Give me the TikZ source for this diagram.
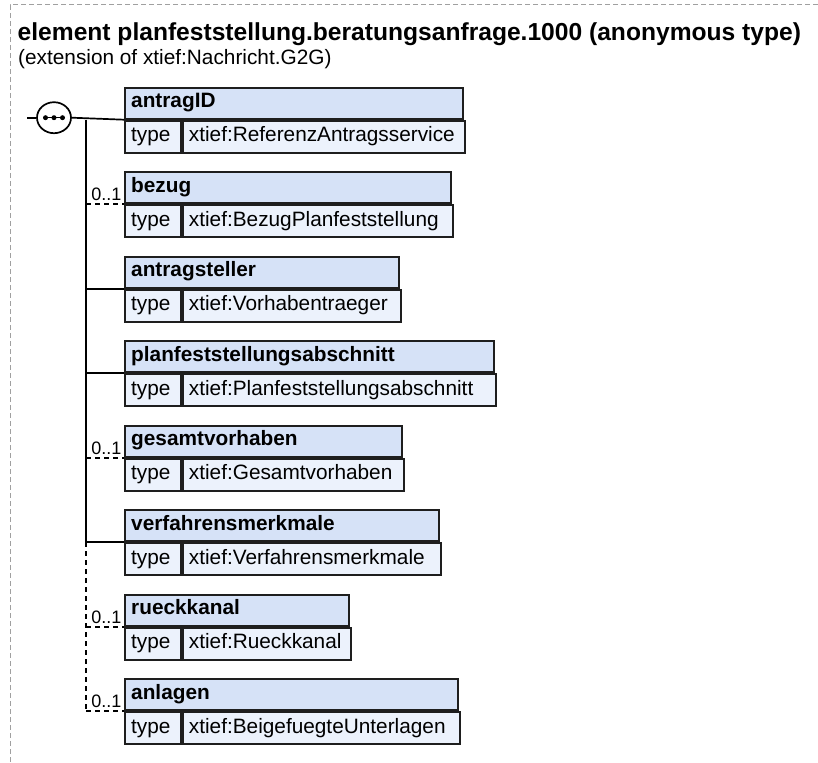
\documentclass[tikz,border=0pt]{standalone}
\usepackage{fontspec}
\setmainfont{Liberation Sans}
\usetikzlibrary{shapes.geometric}
\definecolor{hdrfill}{RGB}{214,226,247}
\definecolor{rowfill}{RGB}{236,242,252}
\definecolor{boxline}{RGB}{30,30,30}
\definecolor{frameline}{RGB}{160,160,160}
\newcommand\xsdelem[6]{%
  \node[hdrbox, minimum width=#3pt] (#1h) at (124,#2) {};
  \node[hdrtext] (#1n) at ([xshift=7pt,yshift=-21pt]#1h.north west) {#5};
  \node[lblbox] (#1l) at (#1h.south west) {};
  \node[bodytext] (#1t) at ([xshift=7pt,yshift=-22pt]#1l.north west) {type};
  \node[valbox, minimum width=#4pt] (#1v) at (#1l.north east) {};
  \node[bodytext] (#1x) at ([xshift=6.7pt,yshift=-22pt]#1v.north west) {#6};
}
\begin{document}
\begin{tikzpicture}[x=1pt,y=-1pt,
  frame/.style={draw=frameline, line width=1pt, dash pattern=on 5pt off 3pt},
  hdrbox/.style={draw=boxline, line width=2pt, fill=hdrfill, anchor=north west, inner sep=0pt, minimum height=31pt},
  lblbox/.style={draw=boxline, line width=2pt, fill=rowfill, anchor=north west, inner sep=0pt, minimum height=32pt, minimum width=56pt},
  valbox/.style={draw=boxline, line width=2pt, fill=rowfill, anchor=north west, inner sep=0pt, minimum height=32pt},
  hdrtext/.style={anchor=base west, inner sep=0pt, font=\fontsize{20.8}{24}\selectfont\bfseries},
  bodytext/.style={anchor=base west, inner sep=0pt, font=\fontsize{20.8}{24}\selectfont},
  card/.style={anchor=base east, inner sep=0pt, font=\fontsize{18}{20}\selectfont},
  conn/.style={draw=black, line width=1.7pt},
  optconn/.style={draw=black, line width=1.7pt, dash pattern=on 5pt off 4pt},
  seqnode/.style={ellipse, draw=black, line width=1.7pt, fill=white, minimum width=34pt, minimum height=31pt, inner sep=0pt},
  seqdot/.style={circle, fill=black, inner sep=0pt, minimum size=5pt}
]
\useasboundingbox (0,0) rectangle (818,762);
\draw[frame] (818,5) -- (10,5) -- (10,762);
\node[anchor=base west, inner sep=0pt, font=\fontsize{24.6}{28}\selectfont\bfseries] (title) at (17.5,40.5) {element planfeststellung.beratungsanfrage.1000 (anonymous type)};
\node[anchor=base west, inner sep=0pt, font=\fontsize{20.8}{24}\selectfont] (subtitle) at (18,64.5) {(extension of xtief:Nachricht.G2G)};

\xsdelem{e1}{86.7}{338}{282}{antragID}{xtief:ReferenzAntragsservice}
\xsdelem{e2}{171.2}{325.7}{269.7}{bezug}{xtief:BezugPlanfeststellung}
\xsdelem{e3}{255.7}{273.7}{217.7}{antragsteller}{xtief:Vorhabentraeger}
\xsdelem{e4}{340.2}{368.7}{312.7}{planfeststellungsabschnitt}{xtief:Planfeststellungsabschnitt}
\xsdelem{e5}{424.7}{276.7}{220.7}{gesamtvorhaben}{xtief:Gesamtvorhaben}
\xsdelem{e6}{509.2}{314.3}{258.3}{verfahrensmerkmale}{xtief:Verfahrensmerkmale}
\xsdelem{e7}{593.7}{223.7}{167.7}{rueckkanal}{xtief:Rueckkanal}
\xsdelem{e8}{678.2}{332.7}{276.7}{anlagen}{xtief:BeigefuegteUnterlagen}

% sequence compositor
\coordinate (in) at (27,117.7);
\node[seqnode] (seq) at (54,117.7) {};
\draw[conn] (in) -- (seq.west);
\node[seqdot] (d1) at (45.5,117.7) {};
\node[seqdot] (d2) at (54,117.7) {};
\node[seqdot] (d3) at (62.5,117.7) {};
\draw[line width=1.2pt] ([xshift=-1.5pt]d1.center) -- ([xshift=1.5pt]d3.center);
\draw[conn] (seq.east) -- (e1h.south west);

% trunk
\coordinate (tx) at (86,0);
\foreach \i in {1,...,8} { \coordinate (j\i) at (tx |- e\i h.south west); }
\draw[conn] (j1) -- (j6);
\draw[optconn] (j6) -- (j8);
\foreach \i in {3,4,6} { \draw[conn] (j\i) -- (e\i h.south west); }
\foreach \i in {2,5,7,8} {
  \draw[optconn] (j\i) -- (e\i h.south west);
  \node[card] (c\i) at ([xshift=-2.3pt,yshift=3.7pt]e\i h.south west) {0..1};
}
\end{tikzpicture}
\end{document}
